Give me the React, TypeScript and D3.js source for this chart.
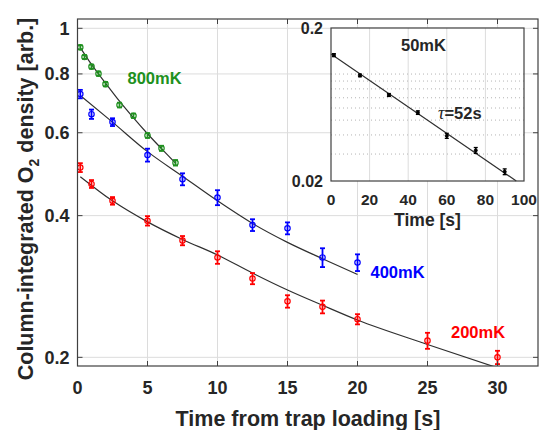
import React from 'react';
import * as d3 from 'd3';

// measured data (time in s, column-integrated density in arb. units)
const t800 = [0.2, 0.5, 1, 1.5, 2, 3, 4, 5, 6, 7];
const n800 = [0.911, 0.869, 0.829, 0.801, 0.761, 0.687, 0.652, 0.592, 0.556, 0.518];
const e800 = [0.009, 0.008, 0.008, 0.008, 0.008, 0.008, 0.007, 0.007, 0.007, 0.007];

const t400 = [0.2, 1, 2.5, 5, 7.5, 10, 12.5, 15, 17.5, 20];
const n400 = [0.725, 0.657, 0.632, 0.538, 0.478, 0.437, 0.382, 0.376, 0.326, 0.318];
const e400 = [0.015, 0.015, 0.012, 0.017, 0.014, 0.016, 0.011, 0.011, 0.015, 0.013];

const t200 = [0.2, 1, 2.5, 5, 7.5, 10, 12.5, 15, 17.5, 20, 25, 30];
const n200 = [0.506, 0.467, 0.43, 0.39, 0.354, 0.326, 0.294, 0.263, 0.256, 0.241, 0.217, 0.2];
const e200 = [0.011, 0.009, 0.008, 0.009, 0.008, 0.01, 0.008, 0.008, 0.008, 0.006, 0.0085, 0.0065];

// fit curves
const fitT800 = [0.2, 1, 2, 3, 4, 5, 6, 7];
const fitN800 = [0.91, 0.838, 0.765, 0.7, 0.645, 0.597, 0.555, 0.517];
const fitT400 = [0.2, 2.5, 5, 7.5, 10, 12.5, 15, 17.5, 20];
const fitN400 = [0.72, 0.632, 0.547, 0.485, 0.43, 0.385, 0.351, 0.324, 0.3];
const fitT200 = [0.2, 2.5, 5, 7.5, 10, 12.5, 15, 17.5, 20, 25, 30];
const fitN200 = [0.484, 0.43, 0.388, 0.356, 0.33, 0.302, 0.278, 0.258, 0.24, 0.213, 0.19];

// inset: 50mK
const tIn = [1.5, 15, 30, 45, 60, 75, 90];
const nIn = [0.133, 0.098, 0.073, 0.056, 0.0395, 0.0317, 0.023];
const eIn = [0.003, 0.002, 0.0016, 0.0015, 0.0015, 0.0014, 0.001];
const fitTIn = [0, 48, 96];
const fitNIn = [0.135, 0.052, 0.02];

const xTicks = [0, 5, 10, 15, 20, 25, 30];
const yTicks = [0.2, 0.4, 0.6, 0.8, 1];
const yTickLabels = ['0.2', '0.4', '0.6', '0.8', '1'];
const xTicksIn = [0, 20, 40, 60, 80, 100];
const yTicksIn = [0.02, 0.2];
const yTickLabelsIn = ['0.02', '0.2'];
const yMinorIn = [0.03, 0.04, 0.05, 0.06, 0.07, 0.08, 0.09, 0.1];

const GREEN = '#209020';
const BLUE = '#0000ff';
const RED = '#ff0000';
const INK = '#262626';
const GRID = '#dcdcdc';
const FONT = 'Liberation Sans, Arial, sans-serif';

const zip = (a: number[], b: number[]) => a.map((v, i) => [v, b[i]] as [number, number]);

export default function App() {
  // main axes
  const x = d3.scaleLinear().domain([0, 33]).range([77.5, 539.5]);
  const y = d3.scaleLog().domain([0.1917, 1.0466]).range([366, 19]);
  const left = 77.5, right = 538, top = 19, bottom = 366;

  // inset axes
  const xi = d3.scaleLinear().domain([0, 100]).range([331, 524]);
  const yi = d3.scaleLog().domain([0.02, 0.2]).range([181, 28]);

  const line = d3.line<[number, number]>().x(d => x(d[0])).y(d => y(d[1])).curve(d3.curveMonotoneX);
  const lineIn = d3.line<[number, number]>().x(d => xi(d[0])).y(d => yi(d[1]));

  const series = [
    { t: t800, n: n800, e: e800, c: GREEN },
    { t: t400, n: n400, e: e400, c: BLUE },
    { t: t200, n: n200, e: e200, c: RED },
  ];
  const fits = [zip(fitT800, fitN800), zip(fitT400, fitN400), zip(fitT200, fitN200)];

  return (
    <svg width={539} height={430} style={{ position: 'absolute', left: 0, top: 0, background: '#fff' }}
      fontFamily={FONT} fontWeight="bold">
      <defs>
        <clipPath id="plotClip">
          <rect x={left} y={top} width={right - left} height={bottom - top} />
        </clipPath>
      </defs>
      <rect x={0} y={0} width={539} height={430} fill="#fff" />

      {/* main grid */}
      {xTicks.map(v => (
        <line key={'gx' + v} x1={x(v)} x2={x(v)} y1={top} y2={bottom} stroke={GRID} strokeWidth={1} />
      ))}
      {yTicks.map(v => (
        <line key={'gy' + v} x1={left} x2={right} y1={y(v)} y2={y(v)} stroke={GRID} strokeWidth={1} />
      ))}

      {/* fits */}
      <g clipPath="url(#plotClip)">
        {fits.map((f, i) => (
          <path key={'f' + i} d={line(f) || ''} fill="none" stroke="#303030" strokeWidth={1.2} />
        ))}
      </g>

      {/* data with error bars */}
      {series.map((s, si) => (
        <g key={'s' + si} stroke={s.c} fill="none">
          {s.t.map((t, i) => {
            const cx = x(t);
            const y1 = y(s.n[i] - s.e[i]);
            const y2 = y(s.n[i] + s.e[i]);
            return (
              <g key={i}>
                <line x1={cx} x2={cx} y1={y1} y2={y2} strokeWidth={1.8} />
                <line x1={cx - 2.5} x2={cx + 2.5} y1={y1} y2={y1} strokeWidth={1.8} />
                <line x1={cx - 2.5} x2={cx + 2.5} y1={y2} y2={y2} strokeWidth={1.8} />
                <circle cx={cx} cy={y(s.n[i])} r={2.7} strokeWidth={1.2} />
              </g>
            );
          })}
        </g>
      ))}

      {/* main axes box and ticks */}
      <rect x={left} y={top} width={right - left} height={bottom - top} fill="none" stroke="#404040" strokeWidth={1.2} />
      {xTicks.map(v => (
        <g key={'tx' + v} stroke="#404040">
          <line x1={x(v)} x2={x(v)} y1={bottom} y2={bottom - 5} />
          <line x1={x(v)} x2={x(v)} y1={top} y2={top + 5} />
        </g>
      ))}
      {yTicks.map(v => (
        <g key={'ty' + v} stroke="#404040">
          <line x1={left} x2={left + 5} y1={y(v)} y2={y(v)} />
          <line x1={right} x2={right - 5} y1={y(v)} y2={y(v)} />
        </g>
      ))}
      {xTicks.map(v => (
        <text key={'lx' + v} x={x(v)} y={394} textAnchor="middle" fontSize={18} fill={INK}>{v}</text>
      ))}
      {yTicks.map((v, i) => (
        <text key={'ly' + v} x={69.5} y={y(v) + 6.5} textAnchor="end" fontSize={18} fill={INK}>{yTickLabels[i]}</text>
      ))}
      <text x={308} y={426} textAnchor="middle" fontSize={21.5} fill={INK}>Time from trap loading [s]</text>
      <text transform="translate(33,199) rotate(-90)" textAnchor="middle" fontSize={21.5} fill={INK}>
        Column-integrated O<tspan fontSize={14} dy={6}>2</tspan><tspan dy={-6}> density [arb.]</tspan>
      </text>

      {/* series labels */}
      <text x={127.5} y={83.5} fontSize={16.5} fill={GREEN}>800mK</text>
      <text x={370.5} y={277.5} fontSize={16.5} fill={BLUE}>400mK</text>
      <text x={451} y={337.5} fontSize={16.5} fill={RED}>200mK</text>

      {/* inset */}
      <rect x={xi(0)} y={yi(0.2)} width={xi(100) - xi(0)} height={yi(0.02) - yi(0.2)} fill="#fff" />
      {xTicksIn.slice(1, -1).map(v => (
        <line key={'igx' + v} x1={xi(v)} x2={xi(v)} y1={yi(0.2)} y2={yi(0.02)} stroke={GRID} strokeWidth={1} />
      ))}
      {yMinorIn.map(v => (
        <line key={'igy' + v} x1={xi(0)} x2={xi(100)} y1={yi(v)} y2={yi(v)} stroke="#b4b4b4" strokeWidth={1}
          strokeDasharray="1 3" />
      ))}
      <path d={lineIn(zip(fitTIn, fitNIn)) || ''} fill="none" stroke="#303030" strokeWidth={1.2} />
      <g stroke="#000" fill="#000">
        {tIn.map((t, i) => {
          const cx = xi(t);
          const y1 = yi(nIn[i] - eIn[i]);
          const y2 = yi(nIn[i] + eIn[i]);
          return (
            <g key={'in' + i}>
              <line x1={cx} x2={cx} y1={y1} y2={y2} strokeWidth={1.5} />
              <line x1={cx - 2} x2={cx + 2} y1={y1} y2={y1} strokeWidth={1.3} />
              <line x1={cx - 2} x2={cx + 2} y1={y2} y2={y2} strokeWidth={1.3} />
              <circle cx={cx} cy={yi(nIn[i])} r={1.6} strokeWidth={0.8} />
            </g>
          );
        })}
      </g>
      <rect x={xi(0)} y={yi(0.2)} width={xi(100) - xi(0)} height={yi(0.02) - yi(0.2)} fill="none"
        stroke="#404040" strokeWidth={1.2} />
      {xTicksIn.map(v => (
        <text key={'ilx' + v} x={xi(v)} y={204.5} textAnchor="middle" fontSize={15.5} fill={INK}>{v}</text>
      ))}
      {yTicksIn.map((v, i) => (
        <text key={'ily' + v} x={323} y={yi(v) + 6} textAnchor="end" fontSize={16} fill={INK}>{yTickLabelsIn[i]}</text>
      ))}
      <text x={xi(50)} y={225.5} textAnchor="middle" fontSize={17.5} fill={INK}>Time [s]</text>
      <text x={401} y={50.5} fontSize={16.5} fill={INK}>50mK</text>
      <text x={438} y={118.5} fontSize={16.5} fill={INK}>
        <tspan fontFamily="Liberation Serif, serif" fontStyle="italic" fontWeight="normal" fontSize={18}>τ</tspan>=52s
      </text>
    </svg>
  );
}
